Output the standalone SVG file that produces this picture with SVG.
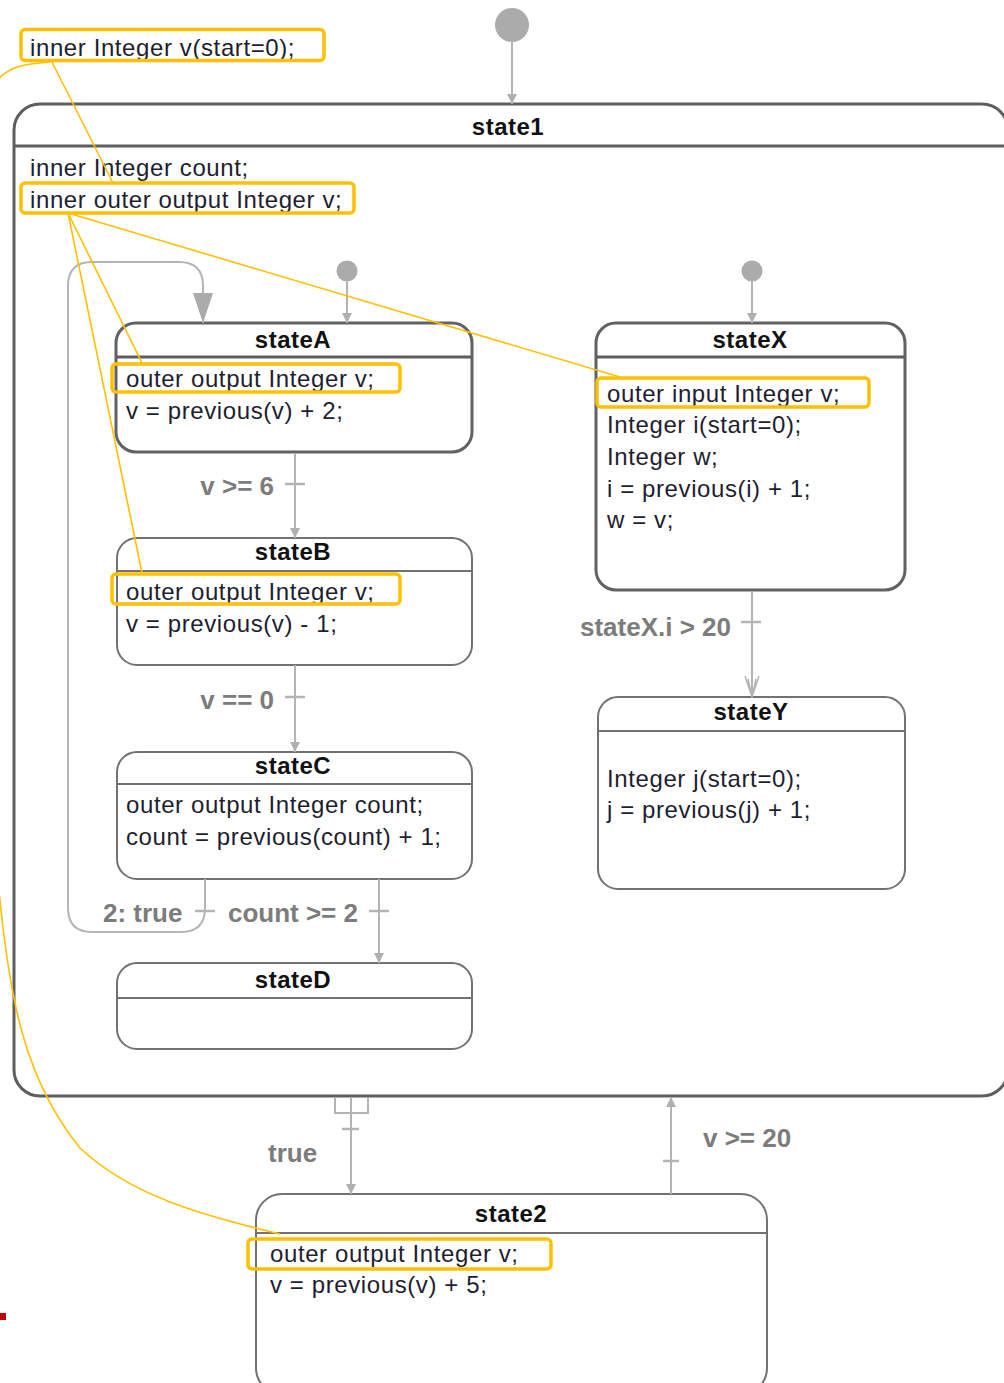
<svg xmlns="http://www.w3.org/2000/svg" width="1004" height="1383" viewBox="0 0 1004 1383">
<style>
.bg{fill:#fff}
.s1{fill:#fff;stroke:#5e5e5e;stroke-width:3}
.sa{fill:#fff;stroke:#626262;stroke-width:3}
.sn{fill:#fff;stroke:#727272;stroke-width:2}
.hd3{stroke:#5e5e5e;stroke-width:3}
.hd2{stroke:#727272;stroke-width:2}
.t{font-family:"Liberation Sans",Arial,sans-serif;font-size:24px;letter-spacing:0.6px;fill:#1e1e30}
.ti{font-family:"Liberation Sans",Arial,sans-serif;font-size:24px;font-weight:bold;letter-spacing:0.5px;fill:#111;text-anchor:middle}
.lb{font-family:"Liberation Sans",Arial,sans-serif;font-size:26px;font-weight:bold;fill:#7c7c7c}
.hl{fill:none;stroke:#FFC000;stroke-width:3.5}
.tr{fill:none;stroke:#b4b4b4;stroke-width:2}
.tk{stroke:#b4b4b4;stroke-width:2.5}
.ini{fill:#ababab}
.yl{fill:none;stroke:#FFC000;stroke-width:1.6}
</style>
<defs>
<marker id="ah" viewBox="0 0 10 12" refX="10" refY="6" markerWidth="10" markerHeight="12" markerUnits="userSpaceOnUse" orient="auto">
<path d="M0,1 L10,6 L0,11 Z" fill="#b0b0b0"/>
</marker>
<marker id="ahb" viewBox="0 0 30 20" refX="30" refY="10" markerWidth="30" markerHeight="20" markerUnits="userSpaceOnUse" orient="auto">
<path d="M0,0 L30,10 L0,20 Z" fill="#ababab"/>
</marker>
<marker id="aho" viewBox="0 0 22 16" refX="21" refY="8" markerWidth="22" markerHeight="16" markerUnits="userSpaceOnUse" orient="auto">
<path d="M0,1 L21,8 L0,15 M3,4 L21,8 L3,12" fill="none" stroke="#b4b4b4" stroke-width="1.5"/>
</marker>
</defs>
<rect class="bg" x="0" y="0" width="1004" height="1383"/>

<g id="state1">
<rect class="s1" x="14" y="104" width="994" height="992" rx="26"/>
<line class="hd3" x1="14" y1="146" x2="1008" y2="146"/>
<text class="ti" x="508" y="135">state1</text>
<text class="t" x="30" y="176">inner Integer count;</text>
<text class="t" x="30" y="208">inner outer output Integer v;</text>
<rect class="hl" x="21" y="183" width="333" height="30" rx="4"/>
</g>

<g id="decl-v">
<text class="t" x="30" y="56">inner Integer v(start=0);</text>
<rect class="hl" x="21" y="29.5" width="303" height="31" rx="4"/>
</g>

<g id="stateA">
<rect class="sa" x="116" y="323" width="356" height="129" rx="20"/>
<line class="hd3" x1="116" y1="357" x2="472" y2="357"/>
<text class="ti" x="293" y="348">stateA</text>
<text class="t" x="126" y="387">outer output Integer v;</text>
<text class="t" x="126" y="419">v = previous(v) + 2;</text>
<rect class="hl" x="112" y="364" width="288" height="28" rx="4"/>
</g>

<g id="stateB">
<rect class="sn" x="117" y="538" width="355" height="127" rx="20"/>
<line class="hd2" x1="117" y1="571" x2="472" y2="571"/>
<text class="ti" x="293" y="560">stateB</text>
<text class="t" x="126" y="600">outer output Integer v;</text>
<text class="t" x="126" y="632">v = previous(v) - 1;</text>
<rect class="hl" x="112" y="574" width="288" height="30" rx="4"/>
</g>

<g id="stateC">
<rect class="sn" x="117" y="752" width="355" height="127" rx="20"/>
<line class="hd2" x1="117" y1="784" x2="472" y2="784"/>
<text class="ti" x="293" y="774">stateC</text>
<text class="t" x="126" y="813">outer output Integer count;</text>
<text class="t" x="126" y="845">count = previous(count) + 1;</text>
</g>

<g id="stateD">
<rect class="sn" x="117" y="963" width="355" height="86" rx="20"/>
<line class="hd2" x1="117" y1="998" x2="472" y2="998"/>
<text class="ti" x="293" y="988">stateD</text>
</g>

<g id="stateX">
<rect class="sa" x="596" y="323" width="309" height="267" rx="20"/>
<line class="hd3" x1="596" y1="357" x2="905" y2="357"/>
<text class="ti" x="750" y="348">stateX</text>
<text class="t" x="607" y="402">outer input Integer v;</text>
<text class="t" x="607" y="433">Integer i(start=0);</text>
<text class="t" x="607" y="465">Integer w;</text>
<text class="t" x="607" y="497">i = previous(i) + 1;</text>
<text class="t" x="607" y="528">w = v;</text>
<rect class="hl" x="597" y="378" width="272" height="29" rx="4"/>
</g>

<g id="stateY">
<rect class="sn" x="598" y="697" width="307" height="192" rx="20"/>
<line class="hd2" x1="598" y1="731" x2="905" y2="731"/>
<text class="ti" x="751" y="720">stateY</text>
<text class="t" x="607" y="787">Integer j(start=0);</text>
<text class="t" x="607" y="818">j = previous(j) + 1;</text>
</g>

<g id="state2">
<rect class="sn" x="256" y="1194" width="511" height="200" rx="26"/>
<line class="hd2" x1="256" y1="1233" x2="767" y2="1233"/>
<text class="ti" x="511" y="1222">state2</text>
<text class="t" x="270" y="1262">outer output Integer v;</text>
<text class="t" x="270" y="1293">v = previous(v) + 5;</text>
<rect class="hl" x="248" y="1239" width="303" height="30" rx="4"/>
</g>

<g id="initials">
<circle class="ini" cx="512" cy="25" r="17"/>
<circle class="ini" cx="347" cy="271" r="10.5"/>
<circle class="ini" cx="752" cy="271" r="10.5"/>
</g>

<g id="connectors">
<line class="tr" x1="512" y1="40" x2="512" y2="104" marker-end="url(#ah)"/>
<line class="tr" x1="347" y1="280" x2="347" y2="323" marker-end="url(#ah)"/>
<line class="tr" x1="752" y1="280" x2="752" y2="323" marker-end="url(#ah)"/>

<path class="tr" d="M205 879 L205 908 Q205 932 181 932 L92 932 Q68 932 68 908 L68 286 Q68 262 92 262 L179 262 Q203 262 203 286 L203 323" marker-end="url(#ahb)"/>
<line class="tk" x1="195" y1="911" x2="215" y2="911"/>
<text class="lb" x="103" y="922">2: true</text>

<line class="tr" x1="295" y1="453" x2="295" y2="538" marker-end="url(#ah)"/>
<line class="tk" x1="285" y1="484" x2="305" y2="484"/>
<text class="lb" x="274" y="495" text-anchor="end">v &gt;= 6</text>

<line class="tr" x1="295" y1="665" x2="295" y2="752" marker-end="url(#ah)"/>
<line class="tk" x1="285" y1="697" x2="305" y2="697"/>
<text class="lb" x="274" y="709" text-anchor="end">v == 0</text>

<line class="tr" x1="379" y1="879" x2="379" y2="963" marker-end="url(#ah)"/>
<line class="tk" x1="369" y1="911" x2="389" y2="911"/>
<text class="lb" x="358" y="922" text-anchor="end">count &gt;= 2</text>

<line class="tr" x1="752" y1="591" x2="752" y2="697" marker-end="url(#aho)"/>
<line class="tk" x1="741" y1="622" x2="761" y2="622"/>
<text class="lb" x="731" y="636" text-anchor="end">stateX.i &gt; 20</text>

<path class="tr" d="M335 1097 L335 1113 L368 1113 L368 1097"/>
<line class="tr" x1="351" y1="1097" x2="351" y2="1194" marker-end="url(#ah)"/>
<line class="tk" x1="342" y1="1129" x2="359" y2="1129"/>
<text class="lb" x="268" y="1162">true</text>

<line class="tr" x1="671" y1="1194" x2="671" y2="1097" marker-end="url(#ah)"/>
<line class="tk" x1="663" y1="1161" x2="679" y2="1161"/>
<text class="lb" x="703" y="1147">v &gt;= 20</text>
</g>

<g id="links">
<line class="yl" x1="52" y1="62" x2="113" y2="183"/>
<line class="yl" x1="68" y1="213" x2="142" y2="363"/>
<line class="yl" x1="68" y1="213" x2="142" y2="573"/>
<line class="yl" x1="68" y1="213" x2="620" y2="377"/>
<path class="yl" d="M50 62 C25 64 8 66 -4 82 C-30 300 -30 700 0 900 C10 1000 25 1080 80 1148 C130 1195 200 1215 280 1234"/>
</g>

<rect x="0" y="1313" width="6" height="7" fill="#c00000"/>
</svg>
